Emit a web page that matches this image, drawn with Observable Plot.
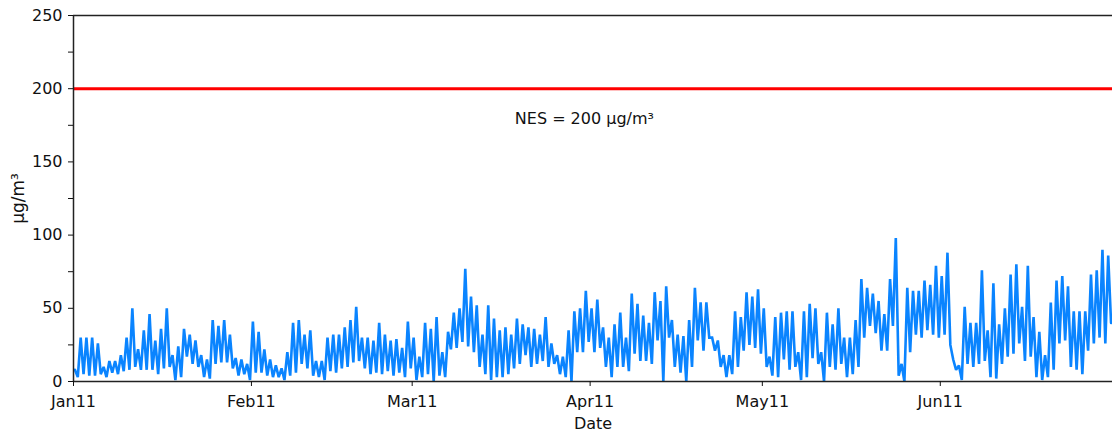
<!DOCTYPE html>
<html><head><meta charset="utf-8">
<script src="https://cdn.jsdelivr.net/npm/d3@7"></script>
<script src="https://cdn.jsdelivr.net/npm/@observablehq/plot@0.6"></script>
<style>body{margin:0;background:#fff;} svg{display:block;}</style>
</head><body><div id="chart"></div>
<script>
// Daily [high, low] pairs, per month (2011)
const jan = [8,3, 30,5, 30,4, 30,4, 26,5, 10,3, 14,6, 14,5, 18,7, 30,8, 50,10, 22,8, 35,8, 46,8, 28,5, 36,9, 50,10, 18,1, 24,3, 36,17, 32,12, 28,10, 18,3, 15,2, 42,12, 38,13, 42,13, 32,9, 16,4, 15,5, 12,1];
const feb = [41,6, 34,6, 22,4, 15,3, 11,3, 9,1, 20,4, 40,6, 42,12, 32,9, 35,4, 14,3, 14,1, 30,7, 32,6, 32,9, 37,10, 42,13, 51,14, 30,9, 30,5, 28,6, 40,5, 32,7, 28,4, 29,6, 23,3, 41,9];
const mar = [30,1, 17,3, 40,5, 36,0, 44,4, 20,3, 34,22, 47,23, 50,27, 77,24, 58,20, 52,10, 32,5, 52,1, 43,3, 35,3, 37,5, 32,9, 43,12, 39,18, 37,10, 36,12, 32,14, 44,10, 26,12, 18,5, 17,3, 35,0, 48,20, 50,20, 62,27];
const apr = [50,20, 56,23, 37,10, 30,3, 39,10, 47,10, 30,7, 60,19, 53,14, 45,14, 40,12, 61,28, 55,0, 65,30, 42,10, 32,6, 31,0, 42,10, 64,28, 54,21, 54,30, 30,21, 28,10, 18,3, 18,5, 48,10, 44,21, 61,25, 58,23, 63,19];
const may = [50,10, 17,4, 44,3, 47,15, 48,8, 48,10, 20,1, 48,3, 53,16, 50,12, 20,0, 47,10, 39,8, 50,12, 30,3, 30,5, 42,10, 70,30, 64,38, 60,33, 55,21, 46,21, 70,38, 98,4, 12,0, 64,20, 62,32, 62,30, 69,35, 66,32, 79,30];
const jun = [72,32, 88,25, 15,8, 11,1, 51,12, 40,10, 40,12, 76,14, 35,3, 67,2, 39,12, 50,17, 73,19, 80,26, 51,14, 79,17, 44,3, 34,1, 18,3, 54,8, 69,26, 72,28, 65,10, 48,8, 48,5, 48,21, 73,26, 76,30, 90,26, 86,40];
const months = [jan, feb, mar, apr, may, jun];

const startDate = "2011-01-01";
const endDate = "2011-07-01";
const xTickDates = ["2011-01-01", "2011-02-01", "2011-03-01", "2011-04-01", "2011-05-01", "2011-06-01"];
const yTicks = [0, 50, 100, 150, 200, 250];
const yMinorTicks = [25, 75, 125, 175, 225];
const limitValue = 200;
const limitLabel = "NES = 200 µg/m³";
const limitLabelDate = "2011-03-31";
const yLabel = "µg/m³";
const xLabel = "Date";

const data = [];
let day = 0;
for (const m of months) {
  for (let i = 0; i < m.length; i += 2) {
    const base = new Date(Date.UTC(2011, 0, 1 + day));
    data.push({date: d3.utcHour.offset(base, 6), value: m[i]});
    data.push({date: d3.utcHour.offset(base, 18), value: m[i + 1]});
    day++;
  }
}

const start = new Date(startDate);
const chart = Plot.plot({
  width: 1112, height: 434,
  marginLeft: 73, marginRight: 0, marginTop: 15, marginBottom: 53,
  style: {fontFamily: "DejaVu Sans", fontSize: "16px", color: "#111", background: "#fff", overflow: "visible"},
  x: {type: "utc", domain: [start, new Date(endDate)]},
  y: {domain: [0, 250]},
  marks: [
    Plot.line(data, {x: "date", y: "value", stroke: "#0a84ff", strokeWidth: 2.6, strokeLinejoin: "miter", strokeMiterlimit: 2}),
    Plot.ruleY([limitValue], {stroke: "#ff0000", strokeWidth: 3}),
    Plot.text([limitLabel], {x: () => new Date(limitLabelDate), y: () => limitValue, dy: 30, text: d => d, fill: "#111"}),
    Plot.ruleY([250], {stroke: "#222", strokeWidth: 1.5}),
    Plot.ruleY([0], {stroke: "#222", strokeWidth: 1.5}),
    Plot.ruleX([start], {stroke: "#222", strokeWidth: 1.5}),
    Plot.axisY({ticks: yTicks, tickSize: 5, tickPadding: 6, label: null}),
    Plot.axisY({ticks: yMinorTicks, tickSize: 5, tickFormat: () => "", label: null}),
    Plot.axisX({ticks: xTickDates.map(d => new Date(d)), tickFormat: d3.utcFormat("%b%y"), tickSize: 5, tickPadding: 9, label: null}),
    Plot.text([xLabel], {frameAnchor: "bottom", lineAnchor: "middle", dy: 42, text: d => d, fill: "#111"}),
    Plot.text([yLabel], {frameAnchor: "left", textAnchor: "middle", lineAnchor: "middle", dx: -55, rotate: -90, text: d => d, fill: "#111", fontSize: 17})
  ]
});
document.getElementById("chart").appendChild(chart);
</script>
</body></html>
